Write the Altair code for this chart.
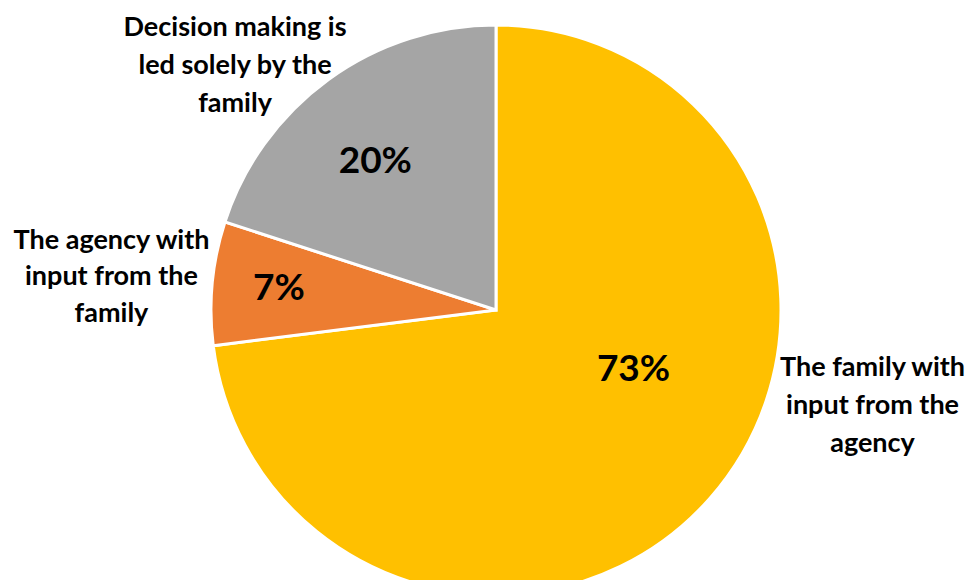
import altair as alt
import pandas as pd

categories = [
    "The family with\ninput from the\nagency",
    "The agency with\ninput from the\nfamily",
    "Decision making is\nled solely by the\nfamily",
]
keys = ["family_agency", "agency_family", "family_only"]
values = [73, 7, 20]
pct_labels = ["73%", "7%", "20%"]
colors = ["#FFC000", "#ED7D31", "#A5A5A5"]

df = pd.DataFrame({
    "idx": [0, 1, 2],
    "key": keys,
    "category": categories,
    "value": values,
    "pct": pct_labels,
})

CX, CY = 488, 302
FONT = "Lato"

theta_scale = alt.Scale(domain=[0, 100])

base = alt.Chart(df)

arc = base.mark_arc(outerRadius=285, stroke="white", strokeWidth=3).encode(
    theta=alt.Theta("value:Q", stack=True, scale=theta_scale),
    color=alt.Color("key:N", scale=alt.Scale(domain=keys, range=colors), legend=None),
    order=alt.Order("idx:Q"),
    x=alt.value(CX),
    y=alt.value(CY),
)

mid = base.transform_window(
    end="sum(value)", sort=[alt.SortField("idx")], frame=[None, 0]
).transform_calculate(mid="datum.end - datum.value / 2")


def label(key, field, radius, dx, dy, size, line_h=None):
    kw = dict(radius=radius, dx=dx, dy=dy, fontSize=size, fontWeight="bold",
              font=FONT, color="black", align="center", baseline="middle")
    if line_h:
        kw.update(lineBreak="\n", lineHeight=line_h)
    return mid.transform_filter(alt.datum.key == key).mark_text(**kw).encode(
        theta=alt.Theta("mid:Q", stack=None, scale=theta_scale),
        text=alt.Text(f"{field}:N"),
        x=alt.value(CX),
        y=alt.value(CY),
    )


layers = [
    arc,
    label("family_agency", "pct", 150, 25, -39, 37),
    label("agency_family", "pct", 218, 0, 0, 37),
    label("family_only", "pct", 190, -9, 6, 37),
    label("family_agency", "category", 330, 129, -160, 27, 38),
    label("agency_family", "category", 330, -56, -38, 27, 36.5),
    label("family_only", "category", 330, -67, -15, 27, 38),
]

chart = alt.layer(*layers).properties(
    width=957, height=572, autosize=alt.AutoSizeParams(type="none"), padding=0
).configure_view(stroke=None)

chart.save("out.html", embed_options={"renderer": "svg", "actions": False})
